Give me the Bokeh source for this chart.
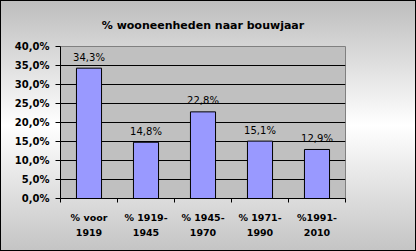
from bokeh.plotting import figure
from bokeh.models import ColumnDataSource, FixedTicker, Range1d
from bokeh.core.properties import value
from bokeh.embed import file_html
from bokeh.resources import INLINE

# ---- data ----
categories = ["% voor\n1919", "% 1919-\n1945", "% 1945-\n1970", "% 1971-\n1990", "%1991-\n2010"]
shares = [0.343, 0.148, 0.228, 0.151, 0.129]
share_labels = ["34,3%", "14,8%", "22,8%", "15,1%", "12,9%"]
y_ticks = [0.0, 0.05, 0.10, 0.15, 0.20, 0.25, 0.30, 0.35, 0.40]
y_tick_labels = ["0,0%", "5,0%", "10,0%", "15,0%", "20,0%", "25,0%", "30,0%", "35,0%", "40,0%"]
title = "% wooneenheden naar bouwjaar"

xs = list(range(1, len(categories) + 1))
source = ColumnDataSource(dict(x=xs, top=shares, lab=share_labels))

p = figure(width=416, height=251, output_backend="svg", toolbar_location=None,
           x_range=Range1d(0.5, len(categories) + 0.5), y_range=Range1d(0, 0.4),
           min_border_left=60, min_border_right=71, min_border_top=46, min_border_bottom=53)

p.title.text = title
p.title.align = "center"
p.title.text_font = "DejaVu Sans"
p.title.text_font_style = "bold"
p.title.text_font_size = "11px"
p.title.text_color = "black"
p.title.standoff = 30

p.border_fill_alpha = 0
p.background_fill_color = "#c0c0c0"
p.outline_line_color = "#808080"
p.outline_line_width = 1
p.styles = {"background": "linear-gradient(to bottom, #bdbdbd 0%, #ffffff 50%, #c4c4c4 100%)",
            "outline": "1px solid black", "outline-offset": "-1px"}

p.vbar(x="x", top="top", width=0.44, source=source, fill_color="#9999ff", line_color="black", line_width=1)
p.text(x="x", y="top", text="lab", source=source, text_align="center", text_baseline="alphabetic",
       y_offset=-11, text_font=value("DejaVu Sans"), text_font_size="10px", text_color="black")

p.xgrid.visible = False
p.ygrid.ticker = FixedTicker(ticks=y_ticks)
p.ygrid.grid_line_color = "black"
p.ygrid.grid_line_width = 1

ya = p.yaxis[0]
ya.ticker = FixedTicker(ticks=y_ticks)
ya.major_label_overrides = {t: l for t, l in zip(y_ticks, y_tick_labels)}
ya.major_tick_out = 5
ya.major_tick_in = 0
ya.minor_tick_line_color = None
ya.axis_line_color = "black"
ya.major_label_text_font = "DejaVu Sans"
ya.major_label_text_font_style = "bold"
ya.major_label_text_font_size = "10px"
ya.major_label_text_color = "black"
ya.major_label_standoff = 6

xa = p.xaxis[0]
xa.ticker = FixedTicker(ticks=xs, minor_ticks=[x - 0.5 for x in xs] + [xs[-1] + 0.5])
xa.major_label_overrides = {x: c for x, c in zip(xs, categories)}
xa.major_tick_line_color = None
xa.major_tick_out = 4
xa.minor_tick_out = 4
xa.minor_tick_in = 0
xa.minor_tick_line_color = "black"
xa.axis_line_color = "black"
xa.major_label_text_font = "DejaVu Sans"
xa.major_label_text_font_style = "bold"
xa.major_label_text_font_size = "9.5px"
xa.major_label_text_color = "black"
xa.major_label_text_line_height = 1.45
xa.major_label_standoff = 9

open("out.html", "w").write(file_html(p, INLINE))
